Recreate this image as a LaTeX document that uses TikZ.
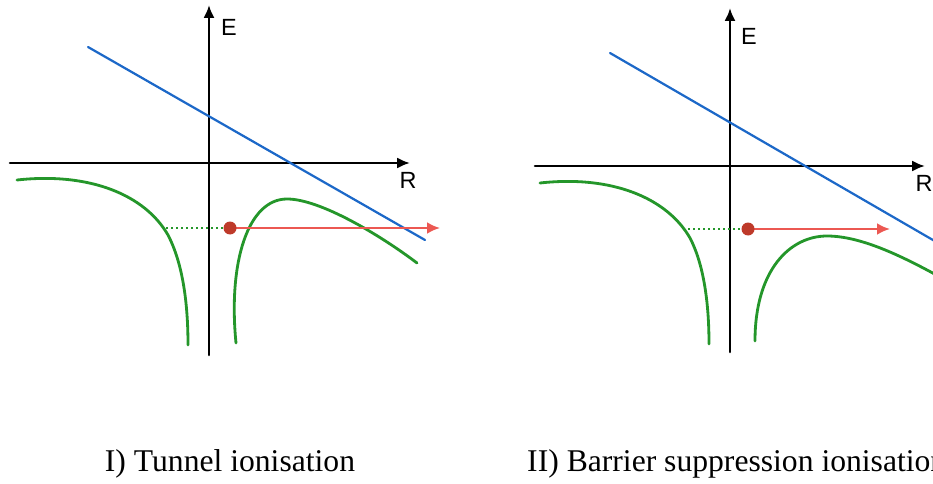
\documentclass[tikz,border=0pt]{standalone}
\usepackage{fontspec}
\setmainfont{Liberation Serif}
\newfontfamily\labelfont{Liberation Sans}
\usetikzlibrary{arrows.meta}
\definecolor{potgreen}{RGB}{36,150,42}
\definecolor{fieldblue}{RGB}{28,104,200}
\definecolor{elecred}{RGB}{190,58,42}
\definecolor{pathred}{RGB}{236,88,82}
\begin{document}
\begin{tikzpicture}[x=0.03cm, y=-0.03cm, line join=round, line cap=round,
	axis/.style={line width=2.2pt, -{Latex[length=11pt,width=9.5pt]}},
	potential/.style={potgreen, line width=2.4pt},
	field/.style={fieldblue, line width=1.9pt},
	escape/.style={pathred, line width=1.9pt, -{Latex[length=11pt,width=10pt]}},
	level/.style={potgreen, line width=1.3pt, line cap=butt, dash pattern=on 1.5pt off 2.8pt},
	axlabel/.style={font=\labelfont\fontsize{20}{24}\selectfont, inner sep=0pt},
	caption/.style={font=\fontsize{27}{32}\selectfont, anchor=base, inner sep=0pt}]
	\useasboundingbox (0,0) rectangle (933,484);
	\clip (0,0) rectangle (933,484);
	% I) tunnel ionisation
	\path
	(209,355) coordinate (Eb1) (209,5) coordinate (Et1)
	(10,163) coordinate (Rb1) (410,163) coordinate (Rt1)
	(88,47) coordinate (F1) (425,240) coordinate (G1)
	(230,228) coordinate (e1) (440,228) coordinate (out1)
	(166,228) coordinate (lev1) (252,228) coordinate (levend1)
	;
	\draw[axis] (Eb1) -- (Et1);
	\draw[axis] (Rb1) -- (Rt1);
	\node[axlabel] (E1) at (229,27) {E};
	\node[axlabel] (R1) at (408,180) {R};
	\draw[field] (F1) -- (G1);
	\draw[potential] (17,180) .. controls (90,172) and (145,195) .. (168,235)
		.. controls (182,262) and (188,300) .. (188,345);
	\draw[potential] (236,343) .. controls (228,262) and (248,199) .. (287,199)
		.. controls (320,199) and (380,235) .. (417,263);
	\draw[level] (lev1) -- (levend1);
	\draw[escape] (e1) -- (out1);
	\fill[elecred] (e1) circle (6.5);
	\node[caption] (cap1) at (230,471) {I) Tunnel ionisation};
	% II) barrier suppression ionisation
	\path
	(730,352) coordinate (Eb2) (730,8) coordinate (Et2)
	(535,166) coordinate (Rb2) (925,166) coordinate (Rt2)
	(610,53) coordinate (F2) (945,247) coordinate (G2)
	(748,229) coordinate (e2) (890,229) coordinate (out2)
	(688,229) coordinate (lev2) (772,229) coordinate (levend2)
	;
	\draw[axis] (Eb2) -- (Et2);
	\draw[axis] (Rb2) -- (Rt2);
	\node[axlabel] (E2) at (749,36) {E};
	\node[axlabel] (R2) at (924,183) {R};
	\draw[field] (F2) -- (G2);
	\draw[potential] (540,183) .. controls (612,175) and (667,198) .. (690,238)
		.. controls (703,263) and (709,300) .. (709,344);
	\draw[potential] (755,341) .. controls (755,270) and (790,236) .. (827,236)
		.. controls (860,236) and (900,255) .. (940,277);
	\draw[level] (lev2) -- (levend2);
	\draw[escape] (e2) -- (out2);
	\fill[elecred] (e2) circle (6.5);
	\node[caption, anchor=base west] (cap2) at (527,471) {II) Barrier suppression ionisation};
\end{tikzpicture}
\end{document}
